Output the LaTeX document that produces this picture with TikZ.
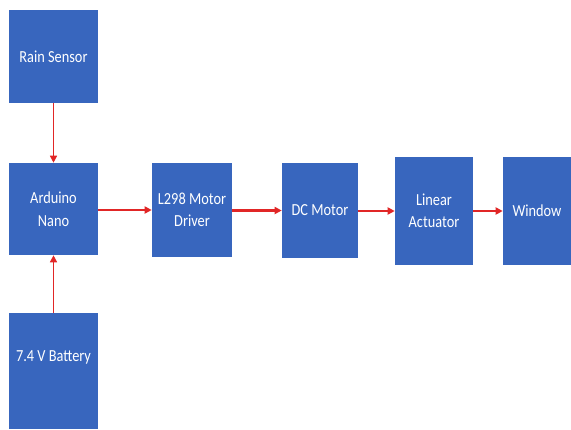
\documentclass[tikz,border=0pt]{standalone}
\usepackage{fontspec}
\setmainfont{Carlito}[FakeStretch=0.85]
\usepackage{xcolor}
\usetikzlibrary{arrows.meta,positioning}
\definecolor{boxblue}{RGB}{56,102,190}
\definecolor{linkred}{RGB}{225,38,38}
\tikzset{
  block/.style={rectangle,fill=boxblue,text=white,align=center,inner sep=1pt,
    font=\fontsize{12}{16}\selectfont},
  link/.style={-{Triangle[length=5pt,width=5pt]},draw=linkred,fill=linkred},
}

\begin{document}
\begin{tikzpicture}[x=0.025cm,y=-0.025cm]
\useasboundingbox (0,0) rectangle (571,429);

% Input side
\node[block,minimum width=2.225cm,minimum height=2.325cm] (rain) at (53.5,56.5) {Rain Sensor};
\node[block,minimum width=2.225cm,minimum height=2.3cm] (nano) at (53.5,209) {Arduino\\Nano};
\fill[boxblue] (9,340) rectangle (98,429);
\node[block,minimum width=2.225cm,minimum height=2.2cm] (bat) at (53.5,357) {7.4 V Battery};

% Output chain
\node[block,minimum width=2cm,minimum height=2.35cm] (driver) at (192,210) {L298 Motor\\Driver};
\node[block,minimum width=1.9cm,minimum height=2.375cm] (motor) at (320,210.5) {DC Motor};
\node[block,minimum width=1.95cm,minimum height=2.7cm] (act) at (434,211) {Linear\\Actuator};
\node[block,minimum width=1.7cm,minimum height=2.7cm] (win) at (537,211) {Window};

% Connections
\draw[link,line width=1pt] (rain) -- (nano);
\draw[link,line width=1pt] (bat) -- (nano);
\draw[link,line width=2pt] (nano.east |- driver.west) -- (driver.west);
\draw[link,line width=2pt] (driver.east |- motor.west) -- (motor.west);
\draw[link,line width=2pt] (motor.east |- act.west) -- (act.west);
\draw[link,line width=2pt] (act) -- (win);
\end{tikzpicture}
\end{document}
